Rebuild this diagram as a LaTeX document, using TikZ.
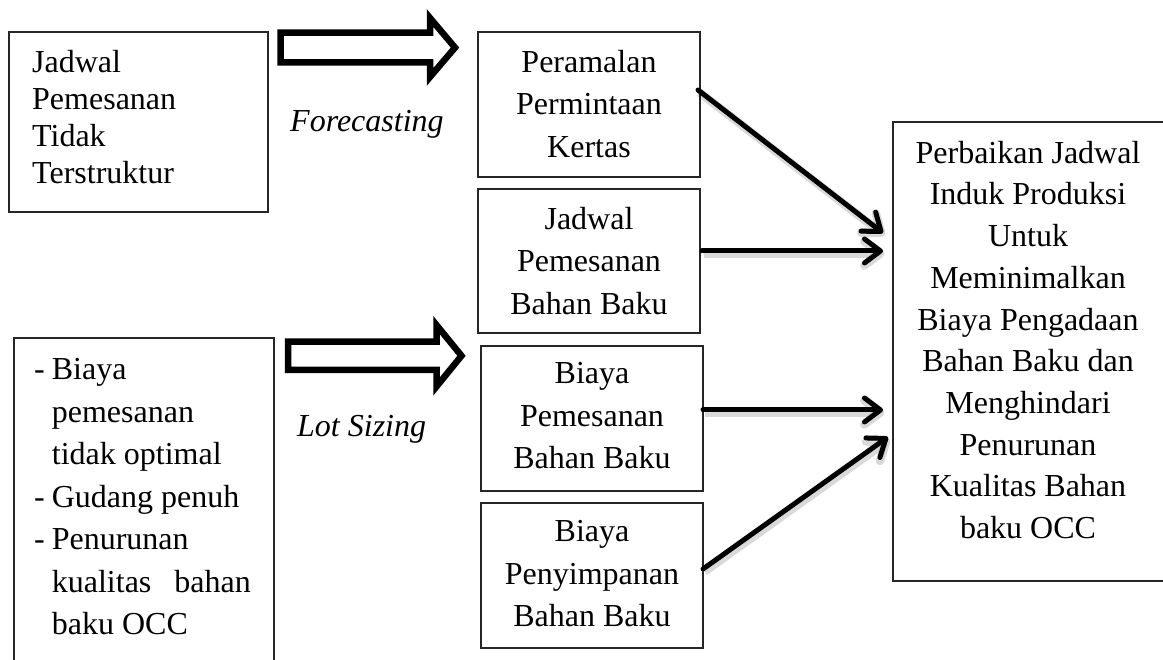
\documentclass[tikz,border=0pt]{standalone}
\usepackage{fontspec}
\setmainfont{Liberation Serif}
\usetikzlibrary{arrows.meta,calc}
\begin{document}
\begin{tikzpicture}[x=1pt,y=1pt,
  box/.style={draw=black!85, line width=1.2pt, rectangle, inner sep=0pt,
    outer sep=0pt, anchor=north west},
  midtext/.style={inner sep=0pt, align=center,
    font=\fontsize{32}{42.5}\selectfont},
  lefttext/.style={inner sep=0pt, align=left, anchor=west,
    font=\fontsize{32}{37}\selectfont},
  method/.style={inner sep=0pt, anchor=base west,
    font=\fontsize{32}{37}\selectfont\itshape},
  blockarrow/.style={draw=black, fill=white, line width=6.5pt,
    line join=miter},
  conn/.style={line width=5pt, line cap=round,
    -{Straight Barb[length=16pt,width=24pt,round]},
    preaction={draw, black, opacity=0.15, line width=8.5pt,
      transform canvas={shift={(1.5pt,-2.5pt)}}}}]
\clip (0,0) rectangle (1163,660);

% boxes
\node[box, minimum width=259pt, minimum height=180pt] (A)  at (9,628) {};
\node[box, minimum width=260pt, minimum height=345pt] (B)  at (14,322) {};
\node[box, minimum width=222pt, minimum height=145pt] (P)  at (478,628) {};
\node[box, minimum width=222pt, minimum height=144pt] (J)  at (478,471) {};
\node[box, minimum width=222pt, minimum height=145pt] (BP) at (481,314) {};
\node[box, minimum width=222pt, minimum height=145pt] (BS) at (481,157) {};
\node[box, minimum width=280pt, minimum height=459pt] (R)  at (893,538) {};

% box texts
\node[lefttext] (At) at (32,543) {Jadwal\\Pemesanan\\Tidak\\Terstruktur};
\node[inner sep=0pt, anchor=west, font=\fontsize{32}{42.5}\selectfont] (Bt) at (34,161)
  {\begin{tabular}{@{}l@{\hspace{7pt}}l@{}}
   -&Biaya\\
    &pemesanan\\
    &tidak optimal\\
   -&Gudang penuh\\
   -&Penurunan\\
    &\hbox to 199pt{kualitas\hfill bahan}\\
    &baku OCC
   \end{tabular}};
\node[midtext] (Pt)  at (589,556) {Peramalan\\Permintaan\\Kertas};
\node[midtext] (Jt)  at (589,399) {Jadwal\\Pemesanan\\Bahan Baku};
\node[midtext] (BPt) at (592,244) {Biaya\\Pemesanan\\Bahan Baku};
\node[midtext] (BSt) at (592,86)  {Biaya\\Penyimpanan\\Bahan Baku};
\node[midtext, font=\fontsize{32}{41.7}\selectfont] (Rt) at (1028,320)
  {Perbaikan Jadwal\\Induk Produksi\\Untuk\\Meminimalkan\\Biaya Pengadaan\\
   Bahan Baku dan\\Menghindari\\Penurunan\\Kualitas Bahan\\baku OCC};

% method labels
\node[method] (fc) at (290,528) {Forecasting};
\node[method] (ls) at (297,223) {Lot Sizing};

% hollow block arrows
\draw[blockarrow] (280.6,627.3) -- (430,627.3) -- (430,642) -- (455,612.4)
  -- (430,583) -- (430,597.5) -- (280.6,597.5) -- cycle;
\draw[blockarrow] (288,318.3) -- (436.7,318.3) -- (436.7,334.7) -- (461.5,304.2)
  -- (436.7,273.7) -- (436.7,290) -- (288,290) -- cycle;

% connectors into the result box
\draw[conn] ($(P.east)+(-2,14.5)$) -- ($(R.west)+(-10,118.5)$);
\draw[conn] ($(J.east)+(2,10)$) -- ($(R.west)+(-10,100.5)$);
\draw[conn] ($(BP.east)+(0,8.5)$) -- ($(R.west)+(-10,-58.5)$);
\draw[conn] ($(BS.east)+(0,6.5)$) -- ($(R.west)+(-5,-85.5)$);
\end{tikzpicture}
\end{document}
